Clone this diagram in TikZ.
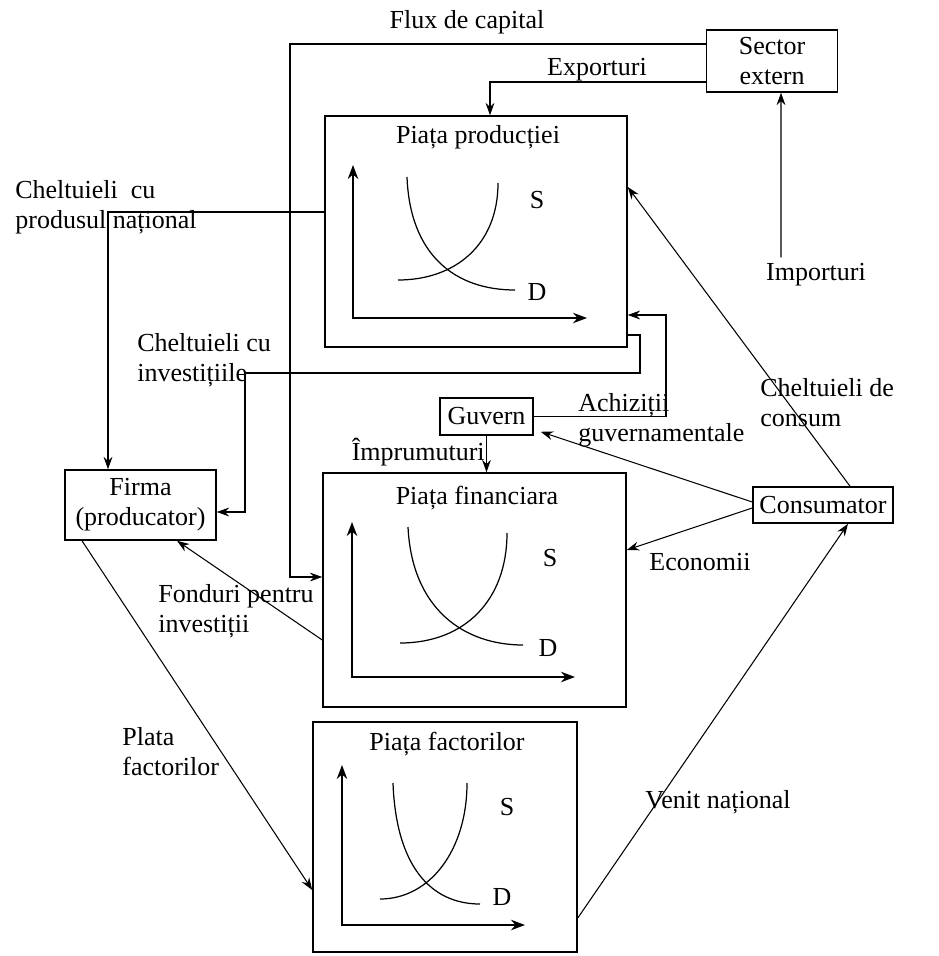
\documentclass[tikz,border=0pt]{standalone}
\usepackage{fontspec}
\setmainfont{Liberation Serif}
\usetikzlibrary{arrows.meta}
\usetikzlibrary{calc}

\begin{document}
\begin{tikzpicture}[x=0.02cm,y=-0.02cm,
  font=\fontsize{14.8}{17}\selectfont,
  box/.style={draw,line width=0.9pt,inner sep=1pt,align=center},
  market/.style={draw,line width=0.9pt,inner sep=0pt},
  flow/.style={line width=0.6pt,-{Stealth[length=7pt,width=5pt]}},
  axes/.style={line width=0.8pt,{Stealth[length=8pt,width=6pt]}-{Stealth[length=8pt,width=6pt]}},
  curve/.style={line width=0.7pt},
  lbl/.style={inner sep=0pt,align=left}]
\useasboundingbox (0,0) rectangle (939,956);

% boxes
\node[box,minimum width=2.62cm,minimum height=1.24cm] (ext) at (772,61) {Sector\\extern};
\node[market,minimum width=6.04cm,minimum height=4.62cm] (prod) at (476,231.5) {};
\node[market,minimum width=6.06cm,minimum height=4.68cm] (fin) at (474.5,590) {};
\node[market,minimum width=5.28cm,minimum height=4.6cm] (fact) at (445,837) {};
\node[box,minimum width=3.02cm,minimum height=1.4cm] (firma) at (140.5,505) {Firma\\(producator)};
\node[box,minimum width=1.86cm,minimum height=0.74cm] (guv) at (486.5,416.5) {Guvern};
\node[box,minimum width=2.8cm,minimum height=0.72cm] (cons) at (823,505) {Consumator};

\node (prodT) at (478,137) {Piața producției};
\node (finT) at (477,498) {Piața financiara};
\node (factT) at (447,744) {Piața factorilor};

% piata productiei
\draw[axes] (353,165) -- (353,318) -- (587,318);
\draw[curve] (407,177) .. controls (410,255) and (455,290) .. (515,290);
\draw[curve] (398,280) .. controls (455,280) and (498,245) .. (498,183);
\node (prodS) at (537,200) {S};
\node (prodD) at (537,292) {D};

% piata financiara
\draw[axes] (352,522) -- (352,677) -- (575,677);
\draw[curve] (408,527) .. controls (412,610) and (465,645) .. (523,645);
\draw[curve] (400,643) .. controls (465,643) and (507,600) .. (507,533);
\node (finS) at (550,558) {S};
\node (finD) at (548,648) {D};

% piata factorilor
\draw[axes] (342,765) -- (342,925) -- (525,925);
\draw[curve] (393,783) .. controls (396,865) and (430,904) .. (480,904);
\draw[curve] (380,899) .. controls (430,899) and (467,850) .. (467,783);
\node (factS) at (507,807) {S};
\node (factD) at (502,897) {D};

% labels
\node[lbl] (fluxL) at (467,22) {Flux de capital};
\node[lbl] (expL) at (597,70) {Exporturi};
\node[lbl,anchor=west] (prodNatL) at (15,207) {Cheltuieli\ \ cu\\produsul național};
\node[lbl,anchor=west] (invL) at (137,360) {Cheltuieli cu\\investițiile};
\node[lbl,anchor=west] (achL) at (578,420) {Achiziții\\guvernamentale};
\node[lbl,anchor=east] (impruL) at (485,452) {Împrumuturi};
\node[lbl,anchor=west] (consL) at (760,403) {Cheltuieli de\\consum};
\node[lbl] (impL) at (816,275) {Importuri};
\node[lbl] (econL) at (700,562) {Economii};
\node[lbl,anchor=west] (fondL) at (158,611) {Fonduri pentru\\investiții};
\node[lbl,anchor=west] (plataL) at (122,752) {Plata\\factorilor};
\node[lbl,anchor=west] (venitL) at (645,802) {Venit național};

% fluxuri
\draw[flow] (ext.west |- 0,44) -| (290,577) -- (fin.west |- 0,577);
\draw[flow] (ext.west |- 0,82) -| (prod.north -| 490,0);
\draw[flow] ([xshift=-0.7cm,yshift=0.12cm]impL.north) -- (ext.south -| 781,0);
\draw[flow] (prod.west |- 0,212) -| (firma.north -| 108,0);
\draw[flow] (prod.east |- 0,335) -| (640,373) -| (245,512) -- (firma.east |- 0,512);
\draw[flow] (guv.east) -| (666,315) -- (prod.east |- 0,315);
\draw[flow] (guv.south) -- (guv.south |- fin.north);
\draw[flow] ([yshift=0.06cm]cons.west) -- ($(guv.south east)+(7,-4)$);
\draw[flow] ([yshift=-0.06cm]cons.west) -- (fin.east |- 0,550);
\draw[flow] (cons.north -| 850,0) -- (prod.east |- 0,187);
\draw[flow] (fin.west |- 0,640) -- (firma.south -| 177,0);
\draw[flow] (firma.south -| 82,0) -- (fact.west |- 0,890);
\draw[flow] (fact.east |- 0,918) -- (cons.south -| 848,0);

\end{tikzpicture}
\end{document}
